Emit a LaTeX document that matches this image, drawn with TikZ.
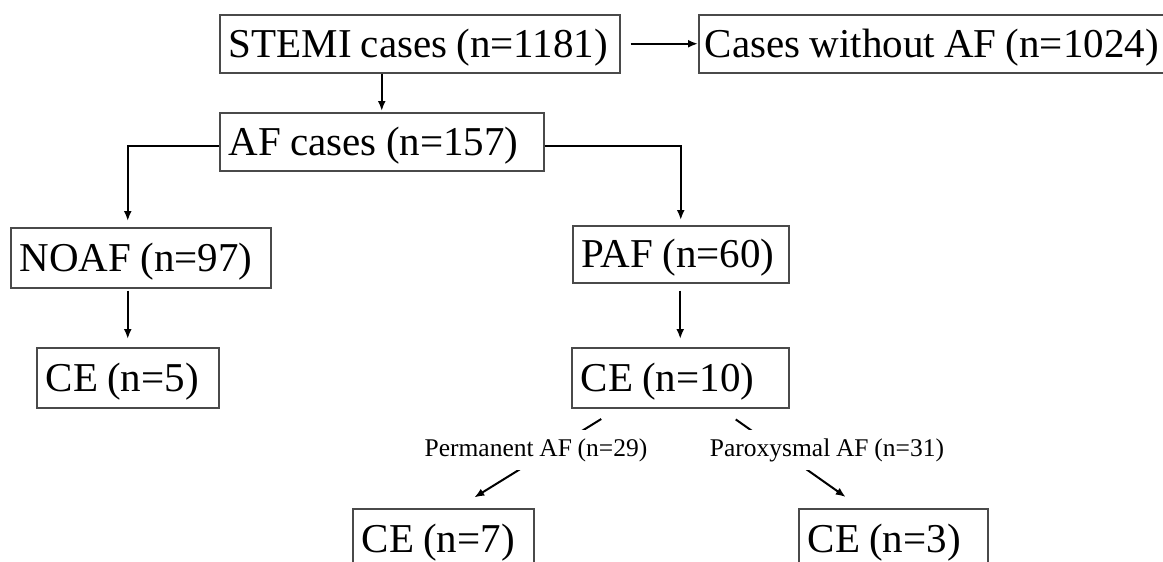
\documentclass[tikz,border=0pt]{standalone}
\usepackage{fontspec}
\setmainfont{Liberation Serif}[WordSpace=0.9]
\usetikzlibrary{arrows.meta,calc}
\definecolor{bxD}{HTML}{4A4A4A}
\newcommand{\boxtxt}[2]{\makebox[#1][l]{#2}}

\begin{document}
\begin{tikzpicture}[x=1pt, y=-1pt,
  box/.style={draw=bxD, line width=1.5pt, anchor=north west,
    inner xsep=9pt, inner ysep=0pt, minimum height=58pt,
    text height=31pt, text depth=4pt,
    font=\fontsize{41}{44}\selectfont},
  small/.style={fill=white, inner xsep=2pt, inner ysep=8pt,
    font=\fontsize{25.5}{28}\selectfont},
  arr/.style={-{Latex[length=10pt,width=8pt]}, line width=2pt},
  ]

% === page
\useasboundingbox (0,0) rectangle (1163,562);

% === boxes
\node[box] (stemi) at (219,14) {\boxtxt{382pt}{STEMI cases (n=1181)}};
\node[box, minimum width=466pt, inner xsep=5pt] (nonaf) at (698,14) {Cases without AF (n=1024)};
\node[box] (afc) at (219,112) {\boxtxt{306pt}{AF cases (n=157)}};
\node[box, minimum height=60pt] (noaf) at (10,227) {\boxtxt{242pt}{NOAF (n=97)}};
\node[box, minimum height=57pt] (paf) at (572,225) {\boxtxt{198pt}{PAF (n=60)}};
\node[box, minimum height=60pt] (ce5) at (36,347) {\boxtxt{164pt}{CE (n=5)}};
\node[box, minimum height=60pt] (ce10) at (571,347) {\boxtxt{199pt}{CE (n=10)}};
\node[box, minimum height=60pt] (ce7) at (352,508) {\boxtxt{163pt}{CE (n=7)}};
\node[box, minimum height=60pt] (ce3) at (798,508) {\boxtxt{171pt}{CE (n=3)}};

% === connectors
\draw[arr, shorten <=10pt] (stemi.east) -- (nonaf.west);
\draw[arr, shorten >=1pt] (afc.north |- stemi.south) -- (afc.north);
\draw[arr, shorten >=6pt] ([yshift=-4pt]afc.west) -| ([xshift=-13pt]noaf.north);
\draw[arr, shorten >=5pt] ([yshift=-4pt]afc.east) -| (paf.north);
\draw[arr, shorten <=2pt, shorten >=8pt] (ce5.north |- noaf.south) -- (ce5.north);
\draw[arr, shorten <=7pt, shorten >=8pt] (ce10.north |- paf.south) -- (ce10.north);

% === split of CE (n=10)
\draw[arr, shorten <=20pt, shorten >=20pt] ([xshift=-62pt]ce10.south) -- ([xshift=14pt]ce7.north);
\draw[arr, shorten <=19pt, shorten >=19pt] ([xshift=40pt]ce10.south) -- ([xshift=-32pt]ce3.north);
\node[small] (perm) at (536,450) {Permanent AF (n=29)};
\node[small] (parox) at (827,450) {Paroxysmal AF (n=31)};

\end{tikzpicture}
\end{document}
